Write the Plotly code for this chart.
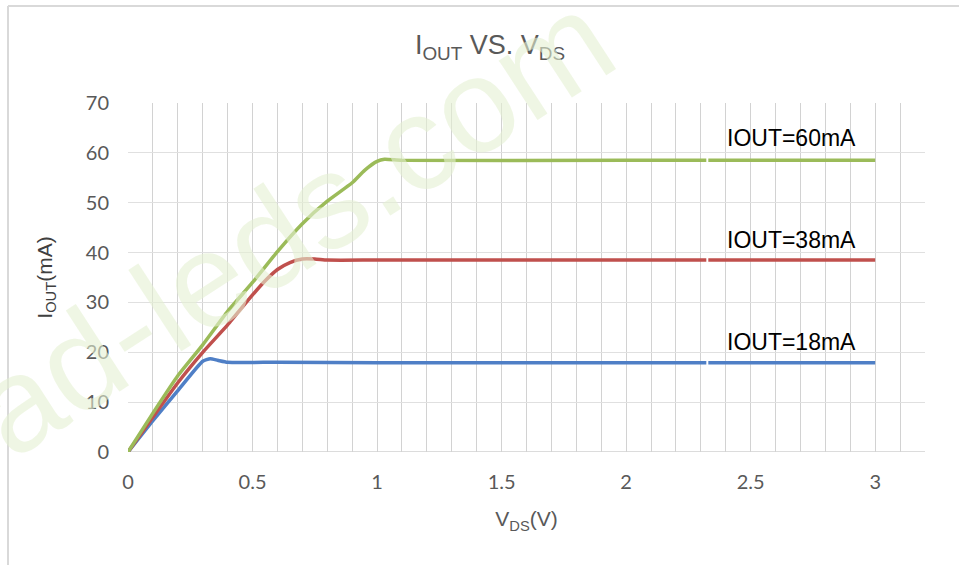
import plotly.graph_objects as go

# ---- data ----
v_18 = [0, 0.1, 0.2, 0.3, 0.33, 0.36, 0.40, 0.6, 1.0, 1.5, 2.0, 2.322, None, 2.33, 2.5, 3.0]
i_18 = [0, 6.3, 12.3, 18.2, 18.7, 18.4, 18.0, 18.0, 17.9, 17.9, 17.9, 17.9, None, 17.9, 17.9, 17.9]

v_38 = [0, 0.1, 0.2, 0.3, 0.4, 0.5, 0.55, 0.6, 0.65, 0.7, 0.75, 0.8, 1.0, 2.0, 2.322, None, 2.33, 3.0]
i_38 = [0, 7.0, 13.9, 20.0, 25.5, 31.5, 34.3, 36.6, 38.0, 38.7, 38.7, 38.5, 38.5, 38.5, 38.5, None, 38.5, 38.5]

v_60 = [0, 0.1, 0.2, 0.3, 0.4, 0.5, 0.6, 0.7, 0.8, 0.9, 0.95, 1.0, 1.03, 1.1, 2.0, 2.322, None, 2.33, 3.0]
i_60 = [0, 7.8, 15.3, 21.5, 28.2, 34.0, 40.2, 45.8, 50.3, 54.0, 56.5, 58.3, 58.7, 58.5, 58.5, 58.5, None, 58.5, 58.5]

series_names = ["IOUT=18mA", "IOUT=38mA", "IOUT=60mA"]
series_colors = ["#4F7FC6", "#C0504D", "#9BBB59"]
label_y = [22.0, 42.5, 63.0]

x_ticks = [0, 0.5, 1, 1.5, 2, 2.5, 3]
y_ticks = [0, 10, 20, 30, 40, 50, 60, 70]

W, H = 959, 565
ML, MR, MT, MB = 128, 34, 103, 113
PW, PH = W - ML - MR, H - MT - MB

def px(x):
    return (x - ML) / PW

def py(y):
    return (H - MB - y) / PH

fig = go.Figure()
for v, i, name, col in zip([v_18, v_38, v_60], [i_18, i_38, i_60], series_names, series_colors):
    fig.add_trace(go.Scatter(x=v, y=i, mode="lines", name=name,
                             line=dict(color=col, width=3.5, shape="spline", smoothing=0.5),
                             connectgaps=False, showlegend=False))

narrow = "Liberation Sans Narrow, Arial Narrow, Liberation Sans, Arial"
grey = "#595959"
tickfam = "Lato, Open Sans, Noto Sans"

annotations = []
for name, ly in zip(series_names, label_y):
    annotations.append(dict(x=2.665, y=ly, xref="x", yref="y", text=name, showarrow=False,
                            font=dict(family=narrow, size=23, color="#000000"),
                            xanchor="center", yanchor="middle"))

# watermark
annotations.append(dict(x=px(248), y=py(252), xref="paper", yref="paper", text="lead-leds.com",
                        showarrow=False, textangle=-33,
                        font=dict(family="Liberation Sans, Arial", size=134, color="rgba(228,240,210,0.6)"),
                        xanchor="center", yanchor="middle"))

fig.update_layout(
    width=W, height=H,
    margin=dict(l=ML, r=MR, t=MT, b=MB),
    paper_bgcolor="white", plot_bgcolor="white",
    title=dict(text="I<sub>OUT</sub> VS. V<sub>DS</sub>", x=490 / W, xanchor="center",
               y=1 - 45 / H, yanchor="middle",
               font=dict(family=narrow, size=27, color=grey)),
    xaxis=dict(range=[0, 3.2], tickvals=x_ticks, ticktext=[str(t) for t in x_ticks],
               showgrid=True, gridcolor="#D2D2D2", gridwidth=1.3,
               minor=dict(dtick=0.1, tick0=0, showgrid=True, gridcolor="#D2D2D2", gridwidth=1.3),
               zeroline=False, showline=False, ticks="", ticklabelstandoff=16,
               tickfont=dict(family=tickfam, size=20, color=grey),
               title=dict(text="V<sub>DS</sub>(V)", font=dict(family=narrow, size=21, color=grey),
                          standoff=19)),
    yaxis=dict(range=[0, 70], tickvals=y_ticks, showgrid=True, gridcolor="#E0E0E0", gridwidth=1.3,
               zeroline=False, showline=False, ticks="", ticklabelstandoff=18,
               tickfont=dict(family=tickfam, size=20, color=grey),
               title=dict(text="I<sub>OUT</sub>(mA)", font=dict(family=narrow, size=21, color="#404040"),
                          standoff=27)),
    annotations=annotations,
    shapes=[
        dict(type="line", xref="paper", yref="paper", x0=px(8), x1=px(W + 5), y0=py(6), y1=py(6),
             line=dict(color="#D9D9D9", width=2)),
        dict(type="line", xref="paper", yref="paper", x0=px(8), x1=px(8), y0=py(6), y1=py(H + 5),
             line=dict(color="#D9D9D9", width=2)),
        dict(type="line", xref="x", yref="y", x0=0, x1=3.2, y0=0, y1=0,
             line=dict(color="#D0D0D0", width=1.5), layer="below"),
    ],
)

fig.write_html("out.html", config={"displayModeBar": False},
               post_script="document.body.style.margin='0px';")
